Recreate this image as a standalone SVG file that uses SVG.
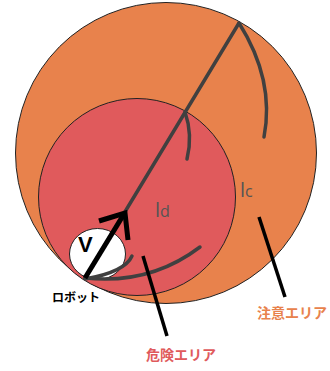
<svg xmlns="http://www.w3.org/2000/svg" width="330" height="371" viewBox="0 0 330 371">
<style>
.gl{fill:none;stroke:#404040;stroke-width:3.5;stroke-linecap:round}
.bl{fill:none;stroke:#000;stroke-width:3.5;stroke-linecap:butt}
.lab{font-family:"Open Sans","Liberation Sans",sans-serif;fill:#555}
.jp{font-family:"Noto Sans CJK JP",sans-serif;font-weight:bold}
</style>
<rect width="330" height="371" fill="#fff"/>
<g id="caution-area"><circle cx="166" cy="153" r="150.5" fill="#E8824C" stroke="#222" stroke-width="1"/></g>
<g id="danger-area"><circle cx="137" cy="197" r="98.5" fill="#E05A5C" stroke="#222" stroke-width="1"/></g>
<g id="robot"><ellipse cx="97.5" cy="254" rx="28" ry="25.5" fill="#fff" stroke="#222" stroke-width="1"/>
<text x="78" y="252" font-family="Liberation Sans,sans-serif" font-weight="bold" font-size="22" fill="#000">V</text></g>
<g id="connectors">
<line class="gl" x1="85" y1="278" x2="239" y2="23"/>
<path class="gl" d="M239,23 Q275,80 264,137"/>
<path class="gl" d="M185,112 Q193,135 187,159"/>
<path class="gl" d="M85,278 Q150,285 200,247"/>
<path class="gl" d="M132,256 Q125,272 85,279"/>
<line x1="85" y1="278" x2="124" y2="214" stroke="#000" stroke-width="5"/>
<polyline points="99,221 125,213 128,240" fill="none" stroke="#000" stroke-width="5"/>
<line class="bl" x1="259" y1="217" x2="285" y2="297"/>
<line class="bl" x1="143" y1="256" x2="167" y2="336"/>
</g>
<g id="labels">
<text class="lab" x="155" y="217" font-size="20">l<tspan font-size="16">d</tspan></text>
<text class="lab" x="240" y="197" font-size="20">l<tspan font-size="16">c</tspan></text>
<text class="jp" x="52" y="302" font-size="12" fill="#000">ロボット</text>
<text class="jp" x="257" y="318" font-size="14" fill="#E8824C">注意エリア</text>
<text class="jp" x="146" y="360" font-size="14" fill="#E05A5C">危険エリア</text>
</g>
</svg>
